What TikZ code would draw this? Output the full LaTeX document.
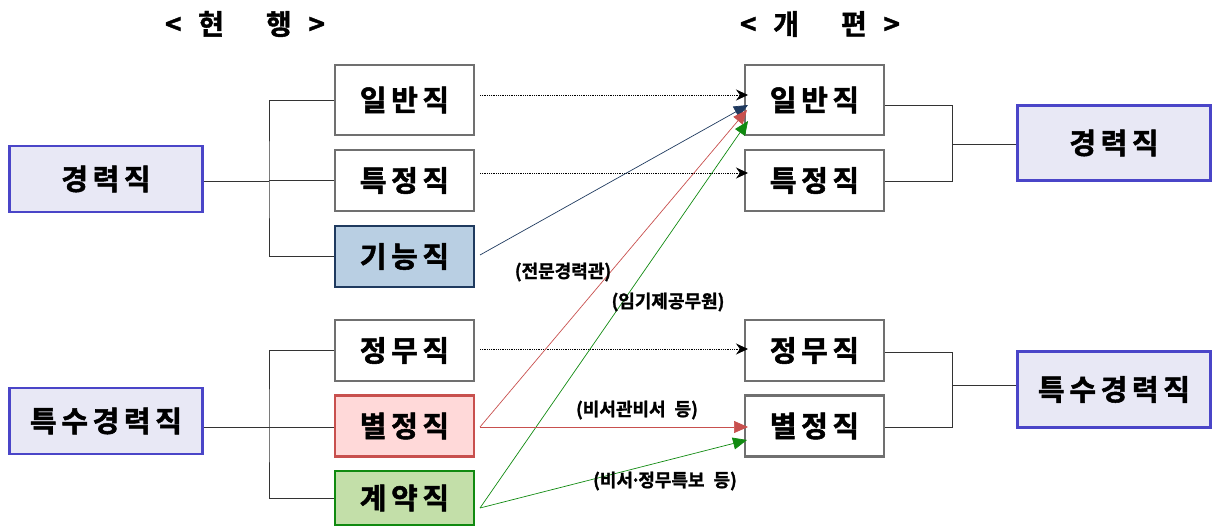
\documentclass[tikz,border=0pt]{standalone}
\usepackage{fontspec}
\newfontfamily\kr[FakeBold=1.8,LetterSpace=16]{Noto Sans CJK KR Bold}
\newfontfamily\krs[FakeBold=1.4]{Noto Sans CJK KR Bold}
\usetikzlibrary{arrows.meta}
\definecolor{grayb}{HTML}{707070}
\definecolor{catb}{HTML}{4A45C8}
\definecolor{catf}{HTML}{E8E8F5}
\definecolor{bluef}{HTML}{B9CFE3}
\definecolor{blueb}{HTML}{1F3A5F}
\definecolor{redf}{HTML}{FFD9D9}
\definecolor{redb}{HTML}{C8504E}
\definecolor{greenf}{HTML}{C3DFA9}
\definecolor{greenb}{HTML}{108A10}
\begin{document}
\begin{tikzpicture}[x=1pt,y=-1pt,
  jobbox/.style={draw=grayb,line width=2.6pt,fill=white,minimum width=139pt,minimum height=61pt,font=\kr\fontsize{29}{32}\selectfont,inner sep=0pt},
  catbox/.style={draw=catb,line width=2.2pt,fill=catf,minimum width=193pt,minimum height=66pt,font=\kr\fontsize{29}{32}\selectfont,inner sep=0pt},
  brk/.style={draw=black!80,line width=0.8pt},
  dotarr/.style={densely dotted,line width=0.8pt,-{Stealth[length=12pt,width=11pt]}},
  colarr/.style={line width=0.7pt,-{Triangle[length=14pt,width=12pt]}},
  lab/.style={font=\krs\fontsize{18}{20}\selectfont,inner sep=1pt},
  ttl/.style={font=\krs\fontsize{28}{30}\selectfont}
]
\useasboundingbox (0,0) rectangle (1213,527);
% titles
\node[ttl] (t1) at (245,24) {<\hspace{0.6em}현\hspace{1.5em}행\hspace{0.6em}>};
\node[ttl] (t2) at (820,24) {<\hspace{0.6em}개\hspace{1.5em}편\hspace{0.6em}>};
% left categories
\node[catbox] (L1) at (106,179) {경력직};
\node[catbox] (L2) at (106,421) {특수경력직};
% current
\node[jobbox,minimum height=70pt] (a1) at (404.5,100) {일반직};
\node[jobbox] (a2) at (404.5,180.5) {특정직};
\node[jobbox,fill=bluef,draw=blueb] (a3) at (404.5,256.5) {기능직};
\node[jobbox] (a4) at (404.5,350.5) {정무직};
\node[jobbox,fill=redf,draw=redb] (a5) at (404.5,426) {별정직};
\node[jobbox,fill=greenf,draw=greenb,minimum height=54pt] (a6) at (404.5,498) {계약직};
% reform
\node[jobbox,minimum height=70pt] (b1) at (814.5,100) {일반직};
\node[jobbox] (b2) at (814.5,180.5) {특정직};
\node[jobbox] (b4) at (814.5,350.5) {정무직};
\node[jobbox] (b5) at (814.5,426) {별정직};
% right categories
\node[catbox,minimum height=75pt] (R1) at (1114,143) {경력직};
\node[catbox,minimum height=76pt] (R2) at (1114,389.5) {특수경력직};
% brackets left
\coordinate (j1) at (269,181);
\draw[brk] (L1.east |- j1) -- (j1);
\draw[brk] (a1.west) -| (269,181) |- (a3.west);
\draw[brk] (a2.west) -- (269,180.5);
\coordinate (j2) at (269,427);
\draw[brk] (L2.east |- j2) -- (a5.west |- j2);
\draw[brk] (a4.west) -| (269,427) |- (a6.west);
% brackets right
\draw[brk] (b1.east |- 0,105) -| (952,144) |- (b2.east |- 0,181);
\draw[brk] (952,144) -- (R1.west |- 0,144);
\draw[brk] (b4.east |- 0,352) -| (952,385) |- (b5.east |- 0,427);
\draw[brk] (952,385) -- (R2.west |- 0,385);
% dotted arrows
\draw[dotarr] (480,95) -- (748,95);
\draw[dotarr] (480,173) -- (748,173);
\draw[dotarr] (480,349) -- (748,349);
% colored arrows
\draw[colarr,blueb] (480,255) -- (748,105);
\draw[colarr,redb] (480,427) -- (747,110);
\draw[colarr,greenb] (480,508) -- (748,121);
\draw[colarr,redb] (480,427) -- (748,427);
\draw[colarr,greenb] (480,508) -- (747,440);
% labels
\node[lab] (l1) at (563,272) {(전문경력관)};
\node[lab] (l2) at (668,302) {(임기제공무원)};
\node[lab] (l3) at (637,410) {(비서관비서\hspace{0.5em}등)};
\node[lab] (l4) at (665,481) {(비서\kern-0.15em·\kern-0.15em정무특보\hspace{0.5em}등)};
\end{tikzpicture}
\end{document}
